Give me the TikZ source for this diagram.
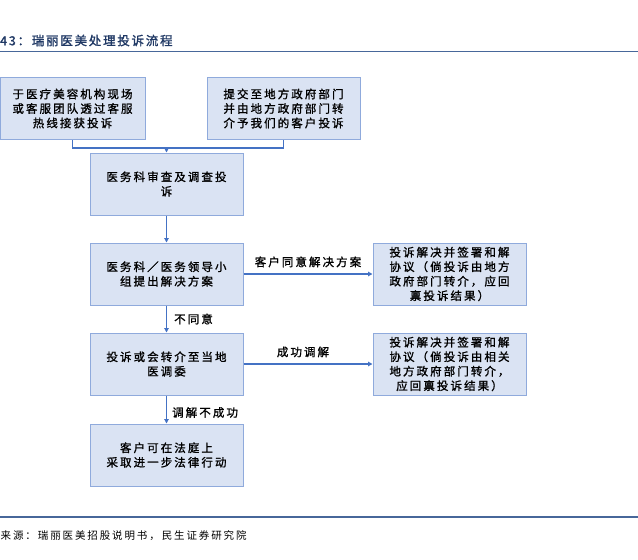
\documentclass[tikz,border=0pt]{standalone}
\usepackage{fontspec}
\usetikzlibrary{arrows.meta,calc}
\newfontfamily\cjk[LetterSpace=18,FakeBold=1.2]{Noto Sans CJK SC}
\newfontfamily\cjktitle[LetterSpace=14,FakeBold=1.4]{Noto Sans CJK SC}
\newfontfamily\cjkfoot[LetterSpace=18]{Noto Sans CJK SC}
\definecolor{boxfill}{HTML}{DAE3F3}
\definecolor{boxline}{HTML}{8FAADC}
\definecolor{arrowblue}{HTML}{4472C4}
\definecolor{titleblue}{HTML}{1F3864}
\definecolor{rulecol}{HTML}{47679A}
\tikzset{
  flowbox/.style={draw=boxline, fill=boxfill, line width=1pt, align=center,
    minimum width=153pt, minimum height=62pt, inner sep=0pt,
    font=\cjk\fontsize{11.5}{14.5}\selectfont},
  conn/.style={draw=arrowblue, line width=1.4pt},
  arr/.style={conn, -{Triangle[length=4.5pt,width=4.5pt]}},
  lbl/.style={font=\cjk\fontsize{11.5}{14.5}\selectfont, inner sep=0pt},
}
\begin{document}
\begin{tikzpicture}[x=1pt,y=-1pt]
\useasboundingbox (0,0) rectangle (638,560);
% title and rules
\node[anchor=west, inner sep=0pt, text=titleblue, font=\cjktitle\fontsize{12.5}{14}\selectfont] (title) at (0,40.5) {43：瑞丽医美处理投诉流程};
\coordinate (r1a) at (0,51.5);
\coordinate (r1b) at (638,51.5);
\draw[rulecol, line width=1.8pt] (r1a) -- (r1b);
\coordinate (r2a) at (0,517);
\coordinate (r2b) at (638,517);
\draw[rulecol, line width=1.8pt] (r2a) -- (r2b);
\node[anchor=west, inner sep=0pt, font=\cjkfoot\fontsize{10.5}{12}\selectfont] (foot) at (0.5,536) {来源：瑞丽医美招股说明书，民生证券研究院};
% boxes
\node[flowbox, minimum width=145pt] (A) at (72.5,108.5) {于医疗美容机构现场\\或客服团队透过客服\\热线接获投诉};
\node[flowbox] (B) at (283.5,108.5) {提交至地方政府部门\\并由地方政府部门转\\介予我们的客户投诉};
\node[flowbox] (C) at (166.5,184) {医务科审查及调查投\\诉};
\node[flowbox] (D) at (166.5,274) {医务科／医务领导小\\组提出解决方案};
\node[flowbox] (E) at (449.5,274) {投诉解决并签署和解\\协议（倘投诉由地方\\政府部门转介，应回\\禀投诉结果）};
\node[flowbox] (F) at (166.5,364) {投诉或会转介至当地\\医调委};
\node[flowbox] (G) at (449.5,364) {投诉解决并签署和解\\协议（倘投诉由相关\\地方政府部门转介，\\应回禀投诉结果）};
\node[flowbox] (H) at (166.5,455) {客户可在法庭上\\采取进一步法律行动};
% connectors
\coordinate (ja) at ($(A.south)+(0,8)$);
\coordinate (jb) at ($(B.south)+(0,8)$);
\coordinate (jc) at (C.north |- ja);
\draw[conn] (A.south) -- (ja) -- (jb) -- (B.south);
\draw[arr] (jc) -- (C.north);
\draw[arr] (C.south) -- (D.north);
\draw[arr] (D.east) -- node[lbl, above=6pt] (l1) {客户同意解决方案} (E.west);
\draw[arr] (D.south) -- node[lbl, right=7pt] (l2) {不同意} (F.north);
\draw[arr] (F.east) -- node[lbl, above=6pt, xshift=-5pt] (l3) {成功调解} (G.west);
\draw[arr] (F.south) -- node[lbl, right=5pt, yshift=-3pt] (l4) {调解不成功} (H.north);
\end{tikzpicture}
\end{document}
